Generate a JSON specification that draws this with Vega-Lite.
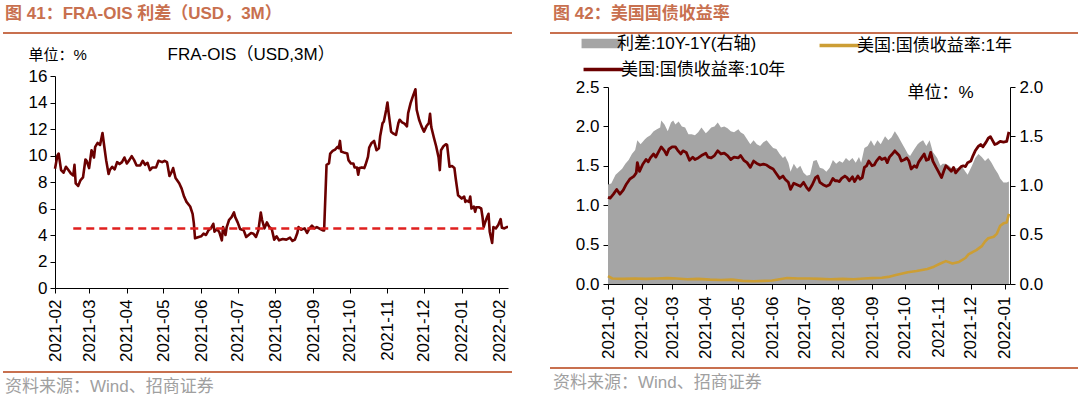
{
"$schema": "https://vega.github.io/schema/vega-lite/v6.json",
"padding": {"left": 3, "top": 5, "right": 0, "bottom": 0},
"background": "white",
"config": {
  "font": "Liberation Sans, Noto Sans CJK SC",
  "view": {"stroke": null},
  "axis": {"domainColor": "#000", "tickColor": "#000", "labelColor": "#000", "labelFontSize": 17, "tickSize": 5, "grid": false, "titleFontWeight": "normal", "titleColor": "#000", "labelFont": "Liberation Sans, Noto Sans CJK SC", "titleFont": "Liberation Sans, Noto Sans CJK SC", "labelOverlap": false},
  "title": {"font": "Liberation Sans, Noto Sans CJK SC"},
  "legend": {"labelFont": "Liberation Sans, Noto Sans CJK SC", "labelLimit": 400}
},
"datasets": {
  "fra": [
{"d":"2021-02-01","v":9.0},{"d":"2021-02-03","v":10.0},{"d":"2021-02-04","v":10.15},{"d":"2021-02-06","v":8.9},{"d":"2021-02-08","v":8.7},{"d":"2021-02-10","v":9.15},{"d":"2021-02-12","v":8.9},{"d":"2021-02-14","v":8.65},{"d":"2021-02-16","v":8.5},{"d":"2021-02-17","v":9.3},{"d":"2021-02-18","v":7.9},{"d":"2021-02-20","v":7.7},{"d":"2021-02-22","v":8.15},{"d":"2021-02-24","v":8.35},{"d":"2021-02-26","v":9.7},{"d":"2021-02-27","v":9.6},
{"d":"2021-03-01","v":9.05},{"d":"2021-03-03","v":10.4},{"d":"2021-03-05","v":9.85},{"d":"2021-03-06","v":10.65},{"d":"2021-03-08","v":10.95},{"d":"2021-03-10","v":10.8},{"d":"2021-03-12","v":11.7},{"d":"2021-03-13","v":11.0},{"d":"2021-03-15","v":9.65},{"d":"2021-03-17","v":8.6},{"d":"2021-03-18","v":8.9},{"d":"2021-03-20","v":9.15},{"d":"2021-03-22","v":8.95},{"d":"2021-03-24","v":9.5},{"d":"2021-03-26","v":9.35},{"d":"2021-03-28","v":9.5},{"d":"2021-03-30","v":9.85},
{"d":"2021-04-01","v":9.4},{"d":"2021-04-03","v":9.65},{"d":"2021-04-05","v":9.95},{"d":"2021-04-07","v":9.65},{"d":"2021-04-09","v":9.25},{"d":"2021-04-12","v":9.25},{"d":"2021-04-14","v":9.6},{"d":"2021-04-16","v":9.3},{"d":"2021-04-18","v":9.45},{"d":"2021-04-20","v":8.9},{"d":"2021-04-22","v":9.1},{"d":"2021-04-25","v":9.1},{"d":"2021-04-27","v":9.6},{"d":"2021-04-30","v":9.5},
{"d":"2021-05-02","v":9.6},{"d":"2021-05-04","v":9.5},{"d":"2021-05-06","v":8.45},{"d":"2021-05-08","v":8.8},{"d":"2021-05-09","v":9.05},{"d":"2021-05-11","v":8.3},{"d":"2021-05-14","v":7.9},{"d":"2021-05-16","v":7.5},{"d":"2021-05-18","v":6.9},{"d":"2021-05-20","v":6.5},{"d":"2021-05-23","v":6.15},{"d":"2021-05-25","v":5.6},{"d":"2021-05-26","v":4.9},{"d":"2021-05-27","v":3.75},{"d":"2021-05-30","v":3.85},
{"d":"2021-06-01","v":3.9},{"d":"2021-06-03","v":4.1},{"d":"2021-06-05","v":4.0},{"d":"2021-06-07","v":4.35},{"d":"2021-06-09","v":4.5},{"d":"2021-06-11","v":4.85},{"d":"2021-06-12","v":4.25},{"d":"2021-06-14","v":4.45},{"d":"2021-06-16","v":4.2},{"d":"2021-06-18","v":3.6},{"d":"2021-06-19","v":4.6},{"d":"2021-06-21","v":4.0},{"d":"2021-06-22","v":4.6},{"d":"2021-06-24","v":5.15},{"d":"2021-06-26","v":5.35},{"d":"2021-06-28","v":5.7},{"d":"2021-06-29","v":5.35},
{"d":"2021-07-01","v":4.95},{"d":"2021-07-03","v":4.45},{"d":"2021-07-06","v":4.35},{"d":"2021-07-08","v":3.85},{"d":"2021-07-10","v":4.0},{"d":"2021-07-12","v":4.15},{"d":"2021-07-14","v":4.1},{"d":"2021-07-16","v":3.85},{"d":"2021-07-18","v":4.35},{"d":"2021-07-20","v":5.7},{"d":"2021-07-21","v":5.15},{"d":"2021-07-23","v":4.5},{"d":"2021-07-25","v":4.95},{"d":"2021-07-27","v":4.6},{"d":"2021-07-29","v":4.45},{"d":"2021-07-31","v":3.65},
{"d":"2021-08-02","v":3.9},{"d":"2021-08-04","v":3.6},{"d":"2021-08-07","v":3.7},{"d":"2021-08-10","v":3.65},{"d":"2021-08-13","v":3.8},{"d":"2021-08-15","v":3.55},{"d":"2021-08-17","v":3.65},{"d":"2021-08-19","v":4.15},{"d":"2021-08-20","v":4.6},{"d":"2021-08-22","v":4.4},{"d":"2021-08-25","v":4.5},{"d":"2021-08-27","v":4.15},{"d":"2021-08-29","v":4.5},{"d":"2021-08-31","v":4.7},
{"d":"2021-09-02","v":4.5},{"d":"2021-09-04","v":4.6},{"d":"2021-09-07","v":4.45},{"d":"2021-09-09","v":4.35},{"d":"2021-09-10","v":4.35},{"d":"2021-09-12","v":9.3},{"d":"2021-09-14","v":9.4},{"d":"2021-09-15","v":10.15},{"d":"2021-09-17","v":10.35},{"d":"2021-09-19","v":10.45},{"d":"2021-09-21","v":10.65},{"d":"2021-09-22","v":10.55},{"d":"2021-09-23","v":11.1},{"d":"2021-09-24","v":10.3},{"d":"2021-09-27","v":10.2},{"d":"2021-09-29","v":10.15},{"d":"2021-09-30","v":9.65},
{"d":"2021-10-02","v":9.4},{"d":"2021-10-04","v":9.4},{"d":"2021-10-05","v":9.1},{"d":"2021-10-07","v":9.1},{"d":"2021-10-08","v":8.55},{"d":"2021-10-09","v":9.05},{"d":"2021-10-11","v":9.1},{"d":"2021-10-13","v":9.05},{"d":"2021-10-14","v":9.3},{"d":"2021-10-16","v":9.9},{"d":"2021-10-17","v":10.6},{"d":"2021-10-19","v":10.95},{"d":"2021-10-21","v":11.1},{"d":"2021-10-23","v":10.4},{"d":"2021-10-25","v":10.55},{"d":"2021-10-26","v":11.45},{"d":"2021-10-28","v":12.45},{"d":"2021-10-29","v":12.55},{"d":"2021-10-31","v":13.45},
{"d":"2021-11-01","v":14.0},{"d":"2021-11-02","v":13.2},{"d":"2021-11-04","v":11.8},{"d":"2021-11-06","v":11.65},{"d":"2021-11-08","v":11.55},{"d":"2021-11-10","v":12.45},{"d":"2021-11-11","v":12.7},{"d":"2021-11-13","v":12.5},{"d":"2021-11-15","v":12.4},{"d":"2021-11-17","v":12.2},{"d":"2021-11-18","v":13.2},{"d":"2021-11-20","v":13.95},{"d":"2021-11-22","v":14.5},{"d":"2021-11-24","v":15.0},{"d":"2021-11-25","v":13.45},{"d":"2021-11-27","v":12.7},{"d":"2021-11-29","v":12.2},
{"d":"2021-12-01","v":11.8},{"d":"2021-12-03","v":12.2},{"d":"2021-12-05","v":12.45},{"d":"2021-12-06","v":13.15},{"d":"2021-12-07","v":12.15},{"d":"2021-12-09","v":11.4},{"d":"2021-12-11","v":10.7},{"d":"2021-12-13","v":9.85},{"d":"2021-12-14","v":8.9},{"d":"2021-12-15","v":10.4},{"d":"2021-12-17","v":10.7},{"d":"2021-12-19","v":10.85},{"d":"2021-12-20","v":10.8},{"d":"2021-12-22","v":9.15},{"d":"2021-12-24","v":9.2},{"d":"2021-12-26","v":9.05},{"d":"2021-12-27","v":8.3},{"d":"2021-12-28","v":7.65},{"d":"2021-12-29","v":7.0},
{"d":"2022-01-01","v":6.75},{"d":"2022-01-03","v":6.9},{"d":"2022-01-04","v":6.5},{"d":"2022-01-05","v":6.6},{"d":"2022-01-07","v":6.5},{"d":"2022-01-08","v":6.9},{"d":"2022-01-09","v":6.0},{"d":"2022-01-11","v":6.15},{"d":"2022-01-12","v":5.75},{"d":"2022-01-13","v":6.1},{"d":"2022-01-15","v":6.1},{"d":"2022-01-17","v":6.0},{"d":"2022-01-18","v":5.4},{"d":"2022-01-19","v":4.6},{"d":"2022-01-20","v":4.9},{"d":"2022-01-22","v":5.4},{"d":"2022-01-23","v":5.6},{"d":"2022-01-24","v":4.25},{"d":"2022-01-26","v":3.4},{"d":"2022-01-27","v":4.6},{"d":"2022-01-29","v":4.5},{"d":"2022-01-31","v":4.75},{"d":"2022-02-02","v":5.2},{"d":"2022-02-03","v":4.55},{"d":"2022-02-05","v":4.5},{"d":"2022-02-07","v":4.6},{"d":"2022-02-08","v":4.6}
  ],
  "ref": [{"d1": "2021-02-16", "d2": "2022-01-22", "v": 4.5}],
  "y10": [
{"d":"2021-01-01","v":1.10},{"d":"2021-01-03","v":1.09},{"d":"2021-01-06","v":1.14},{"d":"2021-01-09","v":1.20},{"d":"2021-01-12","v":1.14},{"d":"2021-01-15","v":1.19},{"d":"2021-01-18","v":1.27},{"d":"2021-01-21","v":1.33},{"d":"2021-01-25","v":1.37},{"d":"2021-01-27","v":1.41},{"d":"2021-01-28","v":1.54},{"d":"2021-01-30","v":1.43},
{"d":"2021-02-02","v":1.52},{"d":"2021-02-05","v":1.58},{"d":"2021-02-07","v":1.55},{"d":"2021-02-09","v":1.60},{"d":"2021-02-12","v":1.65},{"d":"2021-02-14","v":1.61},{"d":"2021-02-17","v":1.69},{"d":"2021-02-19","v":1.74},{"d":"2021-02-22","v":1.69},{"d":"2021-02-24","v":1.64},{"d":"2021-02-26","v":1.71},
{"d":"2021-03-01","v":1.74},{"d":"2021-03-04","v":1.74},{"d":"2021-03-06","v":1.70},{"d":"2021-03-09","v":1.65},{"d":"2021-03-11","v":1.69},{"d":"2021-03-14","v":1.67},{"d":"2021-03-17","v":1.57},{"d":"2021-03-20","v":1.61},{"d":"2021-03-22","v":1.58},{"d":"2021-03-25","v":1.60},{"d":"2021-03-28","v":1.63},
{"d":"2021-04-01","v":1.66},{"d":"2021-04-03","v":1.61},{"d":"2021-04-06","v":1.60},{"d":"2021-04-09","v":1.63},{"d":"2021-04-12","v":1.69},{"d":"2021-04-15","v":1.65},{"d":"2021-04-18","v":1.66},{"d":"2021-04-21","v":1.63},{"d":"2021-04-24","v":1.58},{"d":"2021-04-27","v":1.61},
{"d":"2021-05-01","v":1.60},{"d":"2021-05-03","v":1.63},{"d":"2021-05-06","v":1.57},{"d":"2021-05-09","v":1.54},{"d":"2021-05-12","v":1.48},{"d":"2021-05-15","v":1.56},{"d":"2021-05-18","v":1.53},{"d":"2021-05-21","v":1.51},{"d":"2021-05-24","v":1.52},{"d":"2021-05-27","v":1.51},{"d":"2021-05-30","v":1.48},
{"d":"2021-06-02","v":1.46},{"d":"2021-06-05","v":1.40},{"d":"2021-06-08","v":1.34},{"d":"2021-06-11","v":1.37},{"d":"2021-06-13","v":1.33},{"d":"2021-06-16","v":1.29},{"d":"2021-06-18","v":1.20},{"d":"2021-06-21","v":1.28},{"d":"2021-06-24","v":1.26},{"d":"2021-06-27","v":1.24},{"d":"2021-06-30","v":1.29},
{"d":"2021-07-03","v":1.22},{"d":"2021-07-05","v":1.19},{"d":"2021-07-08","v":1.26},{"d":"2021-07-11","v":1.35},{"d":"2021-07-13","v":1.37},{"d":"2021-07-15","v":1.29},{"d":"2021-07-18","v":1.26},{"d":"2021-07-21","v":1.24},{"d":"2021-07-24","v":1.26},{"d":"2021-07-27","v":1.34},{"d":"2021-07-29","v":1.31},{"d":"2021-07-31","v":1.31},
{"d":"2021-08-02","v":1.30},{"d":"2021-08-04","v":1.34},{"d":"2021-08-07","v":1.37},{"d":"2021-08-09","v":1.35},{"d":"2021-08-11","v":1.31},{"d":"2021-08-14","v":1.36},{"d":"2021-08-16","v":1.30},{"d":"2021-08-19","v":1.37},{"d":"2021-08-21","v":1.33},{"d":"2021-08-23","v":1.35},{"d":"2021-08-25","v":1.48},{"d":"2021-08-27","v":1.50},{"d":"2021-08-29","v":1.56},
{"d":"2021-09-01","v":1.50},{"d":"2021-09-03","v":1.51},{"d":"2021-09-05","v":1.56},{"d":"2021-09-08","v":1.61},{"d":"2021-09-10","v":1.58},{"d":"2021-09-13","v":1.60},{"d":"2021-09-15","v":1.54},{"d":"2021-09-17","v":1.61},{"d":"2021-09-19","v":1.64},{"d":"2021-09-22","v":1.69},{"d":"2021-09-24","v":1.66},{"d":"2021-09-26","v":1.63},{"d":"2021-09-28","v":1.56},
{"d":"2021-10-01","v":1.58},{"d":"2021-10-03","v":1.60},{"d":"2021-10-05","v":1.56},{"d":"2021-10-07","v":1.46},{"d":"2021-10-10","v":1.50},{"d":"2021-10-12","v":1.48},{"d":"2021-10-14","v":1.55},{"d":"2021-10-17","v":1.61},{"d":"2021-10-19","v":1.65},{"d":"2021-10-21","v":1.57},{"d":"2021-10-23","v":1.58},{"d":"2021-10-25","v":1.67},{"d":"2021-10-27","v":1.56},{"d":"2021-10-30","v":1.48},
{"d":"2021-11-01","v":1.43},{"d":"2021-11-04","v":1.35},{"d":"2021-11-06","v":1.43},{"d":"2021-11-08","v":1.50},{"d":"2021-11-11","v":1.46},{"d":"2021-11-13","v":1.43},{"d":"2021-11-15","v":1.48},{"d":"2021-11-17","v":1.41},{"d":"2021-11-20","v":1.46},{"d":"2021-11-22","v":1.49},{"d":"2021-11-24","v":1.50},{"d":"2021-11-26","v":1.49},{"d":"2021-11-28","v":1.54},
{"d":"2021-12-01","v":1.56},{"d":"2021-12-03","v":1.63},{"d":"2021-12-05","v":1.69},{"d":"2021-12-08","v":1.75},{"d":"2021-12-10","v":1.77},{"d":"2021-12-12","v":1.74},{"d":"2021-12-15","v":1.80},{"d":"2021-12-17","v":1.85},{"d":"2021-12-19","v":1.87},{"d":"2021-12-21","v":1.82},{"d":"2021-12-23","v":1.77},{"d":"2021-12-25","v":1.78},{"d":"2021-12-28","v":1.81},{"d":"2021-12-31","v":1.80},
{"d":"2022-01-03","v":1.81},{"d":"2022-01-05","v":1.93}
  ],
  "y1": [
{"d":"2021-01-01","v":0.10},{"d":"2021-01-05","v":0.07},{"d":"2021-01-15","v":0.065},{"d":"2021-01-25","v":0.07},{"d":"2021-02-05","v":0.065},{"d":"2021-02-15","v":0.07},{"d":"2021-02-25","v":0.075},{"d":"2021-03-05","v":0.07},{"d":"2021-03-15","v":0.06},{"d":"2021-03-25","v":0.065},{"d":"2021-04-05","v":0.055},{"d":"2021-04-15","v":0.05},{"d":"2021-04-25","v":0.055},{"d":"2021-05-05","v":0.04},{"d":"2021-05-15","v":0.035},{"d":"2021-05-25","v":0.04},{"d":"2021-06-01","v":0.045},{"d":"2021-06-08","v":0.06},{"d":"2021-06-15","v":0.075},{"d":"2021-06-25","v":0.07},{"d":"2021-07-05","v":0.07},{"d":"2021-07-15","v":0.065},{"d":"2021-07-25","v":0.06},{"d":"2021-08-05","v":0.065},{"d":"2021-08-15","v":0.06},{"d":"2021-08-25","v":0.07},{"d":"2021-09-01","v":0.075},{"d":"2021-09-10","v":0.08},{"d":"2021-09-16","v":0.09},{"d":"2021-09-22","v":0.11},{"d":"2021-09-28","v":0.13},{"d":"2021-10-04","v":0.15},{"d":"2021-10-12","v":0.165},{"d":"2021-10-22","v":0.19},{"d":"2021-10-28","v":0.22},{"d":"2021-11-03","v":0.26},{"d":"2021-11-08","v":0.29},{"d":"2021-11-14","v":0.26},{"d":"2021-11-20","v":0.28},{"d":"2021-11-26","v":0.33},{"d":"2021-11-29","v":0.38},{"d":"2021-12-02","v":0.40},{"d":"2021-12-06","v":0.43},{"d":"2021-12-11","v":0.48},{"d":"2021-12-14","v":0.54},{"d":"2021-12-17","v":0.58},{"d":"2021-12-22","v":0.60},{"d":"2021-12-25","v":0.64},{"d":"2021-12-28","v":0.74},{"d":"2021-12-31","v":0.77},{"d":"2022-01-03","v":0.78},{"d":"2022-01-05","v":0.89}
  ],
  "spr": [
{"d":"2021-01-01","v":1.01},{"d":"2021-01-04","v":1.02},{"d":"2021-01-08","v":1.11},{"d":"2021-01-11","v":1.14},{"d":"2021-01-14","v":1.17},{"d":"2021-01-17","v":1.22},{"d":"2021-01-20","v":1.26},{"d":"2021-01-23","v":1.32},{"d":"2021-01-26","v":1.36},{"d":"2021-01-28","v":1.46},{"d":"2021-01-31","v":1.42},
{"d":"2021-02-04","v":1.47},{"d":"2021-02-06","v":1.49},{"d":"2021-02-09","v":1.51},{"d":"2021-02-12","v":1.55},{"d":"2021-02-15","v":1.57},{"d":"2021-02-18","v":1.59},{"d":"2021-02-19","v":1.66},{"d":"2021-02-22","v":1.62},{"d":"2021-02-25","v":1.55},{"d":"2021-02-28","v":1.64},
{"d":"2021-03-02","v":1.66},{"d":"2021-03-04","v":1.62},{"d":"2021-03-07","v":1.65},{"d":"2021-03-10","v":1.60},{"d":"2021-03-13","v":1.59},{"d":"2021-03-16","v":1.52},{"d":"2021-03-19","v":1.52},{"d":"2021-03-22","v":1.51},{"d":"2021-03-25","v":1.54},{"d":"2021-03-28","v":1.59},
{"d":"2021-04-01","v":1.53},{"d":"2021-04-03","v":1.55},{"d":"2021-04-06","v":1.59},{"d":"2021-04-09","v":1.60},{"d":"2021-04-12","v":1.64},{"d":"2021-04-15","v":1.59},{"d":"2021-04-18","v":1.60},{"d":"2021-04-21","v":1.58},{"d":"2021-04-24","v":1.55},{"d":"2021-04-27","v":1.54},
{"d":"2021-05-01","v":1.57},{"d":"2021-05-03","v":1.54},{"d":"2021-05-06","v":1.52},{"d":"2021-05-09","v":1.47},{"d":"2021-05-12","v":1.42},{"d":"2021-05-15","v":1.46},{"d":"2021-05-18","v":1.42},{"d":"2021-05-21","v":1.40},{"d":"2021-05-24","v":1.44},{"d":"2021-05-27","v":1.46},{"d":"2021-05-30","v":1.42},
{"d":"2021-06-02","v":1.38},{"d":"2021-06-05","v":1.37},{"d":"2021-06-08","v":1.32},{"d":"2021-06-11","v":1.28},{"d":"2021-06-13","v":1.30},{"d":"2021-06-16","v":1.23},{"d":"2021-06-18","v":1.14},{"d":"2021-06-21","v":1.22},{"d":"2021-06-24","v":1.17},{"d":"2021-06-27","v":1.20},{"d":"2021-06-30","v":1.13},
{"d":"2021-07-03","v":1.10},{"d":"2021-07-06","v":1.11},{"d":"2021-07-09","v":1.25},{"d":"2021-07-12","v":1.26},{"d":"2021-07-15","v":1.18},{"d":"2021-07-18","v":1.17},{"d":"2021-07-21","v":1.14},{"d":"2021-07-24","v":1.18},{"d":"2021-07-27","v":1.26},{"d":"2021-07-30","v":1.22},
{"d":"2021-08-02","v":1.25},{"d":"2021-08-05","v":1.23},{"d":"2021-08-08","v":1.28},{"d":"2021-08-11","v":1.25},{"d":"2021-08-14","v":1.28},{"d":"2021-08-17","v":1.23},{"d":"2021-08-20","v":1.29},{"d":"2021-08-22","v":1.23},{"d":"2021-08-25","v":1.38},{"d":"2021-08-28","v":1.40},{"d":"2021-08-31","v":1.46},
{"d":"2021-09-03","v":1.40},{"d":"2021-09-06","v":1.46},{"d":"2021-09-09","v":1.42},{"d":"2021-09-13","v":1.50},{"d":"2021-09-16","v":1.46},{"d":"2021-09-19","v":1.49},{"d":"2021-09-22","v":1.55},{"d":"2021-09-25","v":1.50},{"d":"2021-09-28","v":1.44},
{"d":"2021-10-01","v":1.38},{"d":"2021-10-04","v":1.32},{"d":"2021-10-06","v":1.30},{"d":"2021-10-10","v":1.37},{"d":"2021-10-13","v":1.42},{"d":"2021-10-15","v":1.44},{"d":"2021-10-18","v":1.46},{"d":"2021-10-21","v":1.40},{"d":"2021-10-24","v":1.46},{"d":"2021-10-27","v":1.34},{"d":"2021-10-31","v":1.28},
{"d":"2021-11-03","v":1.20},{"d":"2021-11-05","v":1.22},{"d":"2021-11-08","v":1.22},{"d":"2021-11-11","v":1.20},{"d":"2021-11-14","v":1.17},{"d":"2021-11-17","v":1.18},{"d":"2021-11-20","v":1.17},{"d":"2021-11-23","v":1.19},{"d":"2021-11-26","v":1.14},{"d":"2021-11-28","v":1.11},
{"d":"2021-12-02","v":1.20},{"d":"2021-12-05","v":1.28},{"d":"2021-12-08","v":1.32},{"d":"2021-12-11","v":1.29},{"d":"2021-12-14","v":1.25},{"d":"2021-12-17","v":1.28},{"d":"2021-12-20","v":1.23},{"d":"2021-12-23","v":1.17},{"d":"2021-12-26","v":1.12},{"d":"2021-12-28","v":1.07},{"d":"2021-12-31","v":1.03},{"d":"2022-01-03","v":1.03},{"d":"2022-01-05","v":1.04}
  ]
},
"spacing": 38,
"resolve": {"scale": {"fill": "independent", "stroke": "independent"}},
"hconcat": [
  {"concat": [
    {"concat": [
      {"width": 509, "height": 2, "view": {"fill": "#C8704F", "stroke": null},
       "title": {"text": "图 41：FRA-OIS 利差（USD，3M）", "anchor": "start", "fontSize": 17, "fontWeight": "bold", "color": "#C8704F", "offset": 4, "dx": 2},
       "data": {"values": [{}]}, "mark": "text", "encoding": {"text": {"value": ""}}},
      {"width": 505, "height": 212,
       "layer": [
        {"data": {"name": "fra"}, "mark": {"type": "line", "color": "#6B0000", "strokeWidth": 2.6, "strokeJoin": "round"},
         "encoding": {
          "x": {"field": "d", "type": "temporal", "scale": {"type": "utc", "range": [52, 505], "domain": [{"year": 2021, "month": 2, "date": 1, "utc": true}, {"year": 2022, "month": 2, "date": 8, "utc": true}]},
                "axis": {"title": null, "format": "%Y-%m", "labelAngle": -90, "tickCount": {"interval": "month", "step": 1}, "labelPadding": 6, "labelFlush": false}},
          "y": {"field": "v", "type": "quantitative", "scale": {"domain": [0, 16], "nice": false},
                "axis": {"offset": -52, "values": [0, 2, 4, 6, 8, 10, 12, 14, 16], "title": "单位：%", "titleAngle": 0, "titleX": -27, "titleY": -14, "titleAlign": "left", "titleBaseline": "bottom", "titleFontSize": 15, "titlePadding": 0, "labelPadding": 3}}
         }},
        {"data": {"name": "ref"}, "mark": {"type": "rule", "color": "#E0201F", "strokeWidth": 2.5, "strokeDash": [8, 5]},
         "encoding": {"x": {"field": "d1", "type": "temporal"}, "x2": {"field": "d2"},
          "y": {"field": "v", "type": "quantitative", "scale": {"domain": [0, 16], "nice": false},
                "axis": {"orient": "right", "domain": false, "ticks": false, "labels": false, "minExtent": 0, "title": "FRA-OIS（USD,3M）", "titleAngle": 0, "titleX": -341, "titleY": -13, "titleAlign": "left", "titleBaseline": "bottom", "titleFontSize": 17, "titlePadding": 0}}}}
       ],
       "resolve": {"scale": {"y": "independent"}}}
    ], "columns": 1, "spacing": 7},
    {"width": 509, "height": 2, "view": {"fill": "#C8704F", "stroke": null},
     "title": {"text": "资料来源：Wind、招商证券", "orient": "bottom", "anchor": "start", "fontSize": 17, "fontWeight": "normal", "color": "#A0A0A0", "offset": 2, "dx": 2},
     "data": {"values": [{}]}, "mark": "text", "encoding": {"text": {"value": ""}}}
  ], "columns": 1, "spacing": 4},
  {"concat": [
    {"concat": [
      {"width": 528, "height": 2, "view": {"fill": "#C8704F", "stroke": null},
       "title": {"text": "图 42：美国国债收益率", "anchor": "start", "fontSize": 17, "fontWeight": "bold", "color": "#C8704F", "offset": 4, "dx": 3},
       "data": {"values": [{}]}, "mark": "text", "encoding": {"text": {"value": ""}}},
      {"width": 528, "height": 197,
       "layer": [
        {"data": {"name": "spr"}, "mark": {"type": "area", "opacity": 1},
         "encoding": {
          "x": {"field": "d", "type": "temporal", "scale": {"type": "utc", "range": [58, 460], "domain": [{"year": 2021, "month": 1, "date": 1, "utc": true}, {"year": 2022, "month": 1, "date": 6, "utc": true}]},
                "axis": {"title": null, "format": "%Y-%m", "labelAngle": -90, "tickCount": {"interval": "month", "step": 1}, "labelPadding": 7, "labelFlush": false}},
          "y": {"field": "v", "type": "quantitative", "scale": {"domain": [0, 2], "nice": false},
                "axis": {"orient": "right", "offset": -68, "values": [0, 0.5, 1, 1.5, 2], "format": ".1f", "title": "单位：%", "titleAngle": 0, "titleX": -103, "titleY": 14, "titleAlign": "left", "titleBaseline": "bottom", "titleFontSize": 17, "labelPadding": 4}},
          "fill": {"datum": "利差:10Y-1Y(右轴)", "type": "nominal", "scale": {"range": ["#A5A5A5"]},
                   "legend": {"orient": "none", "legendX": 42, "legendY": -53, "title": null, "symbolType": "M-2.1,-0.5H2.1V0.5H-2.1Z", "symbolSize": 361, "symbolStrokeWidth": 0, "symbolOpacity": 1, "labelFontSize": 17, "labelOffset": 6, "labelColor": "#000", "padding": 0}}
         }},
        {"data": {"name": "y1"}, "mark": {"type": "line", "strokeWidth": 2.6, "strokeJoin": "round"},
         "encoding": {
          "x": {"field": "d", "type": "temporal"},
          "y": {"field": "v", "type": "quantitative", "scale": {"domain": [0, 2.5], "nice": false},
                "axis": {"orient": "left", "offset": -58, "values": [0, 0.5, 1, 1.5, 2, 2.5], "format": ".1f", "title": null, "labelPadding": 4}},
          "stroke": {"datum": "美国:国债收益率:1年", "type": "nominal", "scale": {"range": ["#CC9E35"]},
                     "legend": {"orient": "none", "legendX": 278, "legendY": -53, "title": null, "symbolType": "M-2.1,0H2.1", "symbolSize": 361, "symbolStrokeWidth": 3.5, "labelFontSize": 17, "labelOffset": 6, "labelColor": "#000", "padding": 0}}
         }},
        {"data": {"name": "y10"}, "mark": {"type": "line", "strokeWidth": 2.8, "strokeJoin": "round"},
         "encoding": {
          "x": {"field": "d", "type": "temporal"},
          "y": {"field": "v", "type": "quantitative", "scale": {"domain": [0, 2.5], "nice": false}, "axis": null},
          "stroke": {"datum": "美国:国债收益率:10年", "type": "nominal", "scale": {"range": ["#6B0000"]},
                     "legend": {"orient": "none", "legendX": 42, "legendY": -29, "title": null, "symbolType": "M-2.1,0H2.1", "symbolSize": 361, "symbolStrokeWidth": 3.5, "labelFontSize": 17, "labelOffset": 6, "labelColor": "#000", "padding": 0}}
         }}
       ],
       "resolve": {"scale": {"y": "independent", "stroke": "independent", "fill": "independent"}}}
    ], "columns": 1, "spacing": -4},
    {"width": 528, "height": 2, "view": {"fill": "#C8704F", "stroke": null},
     "title": {"text": "资料来源：Wind、招商证券", "orient": "bottom", "anchor": "start", "fontSize": 17, "fontWeight": "normal", "color": "#A0A0A0", "offset": 2, "dx": 3},
     "data": {"values": [{}]}, "mark": "text", "encoding": {"text": {"value": ""}}}
  ], "columns": 1, "spacing": 3}
]
}
